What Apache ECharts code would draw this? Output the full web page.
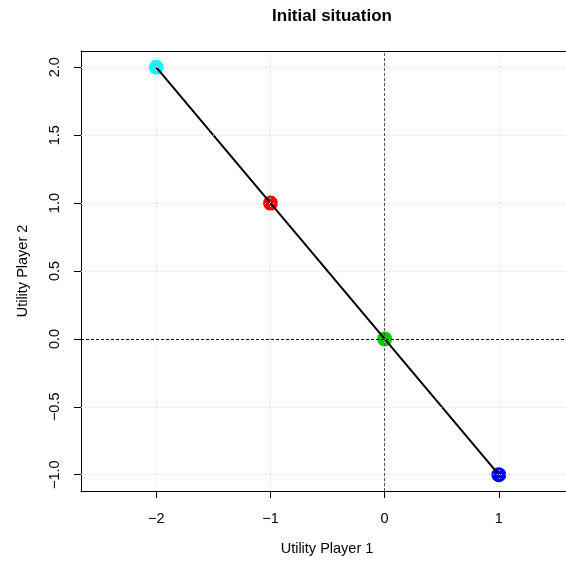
<!DOCTYPE html>
<html>
<head>
<meta charset="utf-8">
<script src="https://cdn.jsdelivr.net/npm/echarts@6/dist/echarts.min.js"></script>
<style>
  html, body { margin: 0; padding: 0; background: #fff; }
  #chart { width: 566px; height: 565px; }
</style>
</head>
<body>
<div id="chart"></div>
<script>
// data points (utility player 1, utility player 2)
const pointX = [-2, -1, 0, 1]
const pointY = [2, 1, 0, -1]
const pointColors = ['#00FFFF', '#FF0000', '#00CD00', '#0000FF']

// tick positions
const xTicks = [-2, -1, 0, 1]
const yTicks = [-1, -0.5, 0, 0.5, 1, 1.5, 2]

const font = 'Liberation Sans, Arial, Helvetica, sans-serif'
const minus = s => String(s).replace('-', '\u2212')

const gridLines = [
  ...xTicks.map(v => ({ xAxis: v, lineStyle: { color: '#d3d3d3', type: [1, 3], width: 1 } })),
  ...yTicks.map(v => ({ yAxis: v, lineStyle: { color: '#d3d3d3', type: [1, 3], width: 1 } })),
  { yAxis: 0, lineStyle: { color: '#000', type: [3, 2], width: 1 } },
  { xAxis: 0, lineStyle: { color: '#555', type: [3, 2], width: 1 } }
]

const chart = echarts.init(document.getElementById('chart'))
chart.setOption({
  animation: false,
  title: {
    text: 'Initial situation',
    left: 327, top: 3, textAlign: 'center',
    textStyle: { fontFamily: font, fontSize: 17, fontWeight: 'bold', color: '#000' }
  },
  grid: {
    left: 81, top: 51, width: 492, height: 440,
    outerBoundsMode: 'none', containLabel: false,
    show: false
  },
  xAxis: [{
    type: 'value', min: -2.66, max: 1.65,
    name: 'Utility Player 1', nameLocation: 'middle', nameGap: 50,
    nameTextStyle: { fontFamily: font, fontSize: 14.5, color: '#000' },
    axisLine: { show: true, onZero: false, lineStyle: { color: '#000' } },
    axisTick: { show: true, length: 7, customValues: xTicks, lineStyle: { color: '#000' } },
    axisLabel: {
      customValues: xTicks, margin: 20,
      fontFamily: font, fontSize: 14.5, color: '#000',
      formatter: v => minus(v)
    },
    splitLine: { show: false }
  }, {
    // top edge of the plot box
    type: 'value', position: 'top', min: -2.66, max: 1.65,
    axisLine: { show: true, onZero: false, lineStyle: { color: '#000' } },
    axisTick: { show: false }, axisLabel: { show: false }, splitLine: { show: false }
  }],
  yAxis: {
    type: 'value', min: -1.12, max: 2.12,
    name: 'Utility Player 2', nameLocation: 'middle', nameGap: 51,
    nameTextStyle: { fontFamily: font, fontSize: 14.5, color: '#000' },
    axisLine: { show: true, onZero: false, lineStyle: { color: '#000' } },
    axisTick: { show: true, length: 7, customValues: yTicks, lineStyle: { color: '#000' } },
    axisLabel: {
      customValues: yTicks, margin: 19, rotate: 90,
      fontFamily: font, fontSize: 14.5, color: '#000',
      formatter: v => minus(v.toFixed(1))
    },
    splitLine: { show: false }
  },
  series: [
    {
      type: 'line', data: [], z: 1, silent: true,
      markLine: { silent: true, symbol: 'none', label: { show: false }, animation: false, data: gridLines }
    },
    {
      type: 'scatter', z: 2, symbolSize: 15,
      data: pointX.map((x, i) => ({ value: [x, pointY[i]], itemStyle: { color: pointColors[i], opacity: 1 } }))
    },
    {
      type: 'line', z: 3, symbol: 'none',
      lineStyle: { color: '#000', width: 2 },
      data: pointX.map((x, i) => [x, pointY[i]])
    }
  ]
})
</script>
</body>
</html>
